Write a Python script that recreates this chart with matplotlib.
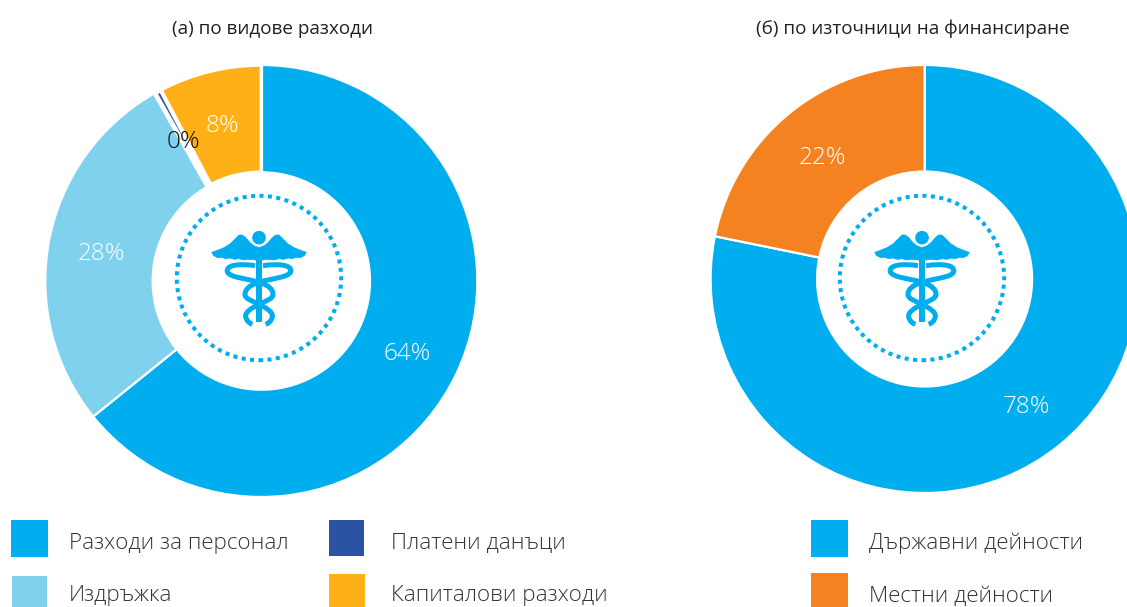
import matplotlib
matplotlib.use("Agg")
import matplotlib.pyplot as plt
from matplotlib.patches import Circle, PathPatch, Rectangle
from matplotlib.path import Path

plt.rcParams['font.family'] = ['Open Sans', 'DejaVu Sans']

W, H = 1127, 607
BLUE = '#00AEEF'; LIGHT = '#7FD1EE'; NAVY = '#2B52A3'; AMBER = '#FFB017'; ORANGE = '#F58220'

title_a = '(а) по видове разходи'
title_b = '(б) по източници на финансиране'
names_a = ['Разходи за персонал', 'Издръжка', 'Платени данъци', 'Капиталови разходи']
values_a = [64.2, 27.6, 0.5, 7.7]
colors_a = [BLUE, LIGHT, NAVY, AMBER]
names_b = ['Държавни дейности', 'Местни дейности']
values_b = [78.2, 21.8]
colors_b = [BLUE, ORANGE]

fig = plt.figure(figsize=(W / 100, H / 100), dpi=100, facecolor='white')
ax = fig.add_axes([0, 0, 1, 1])


def Y(py):
    return H - py


def donut(values, colors, cx, cy, r_out, r_in):
    wedges, _ = ax.pie(values, colors=colors, center=(cx, Y(cy)), radius=r_out, startangle=90,
                       counterclock=False,
                       wedgeprops=dict(width=r_out - r_in, edgecolor='white', linewidth=1.6))
    return wedges


def icon(cx, ring_cy):
    ax.add_patch(Circle((cx, Y(ring_cy)), 82.2, fill=False, edgecolor=BLUE, linewidth=2.9,
                        linestyle=(0, (1, 1.1))))
    oy = ring_cy - 53

    def P(x, y):
        return (cx + x / 3, Y(oy + y / 3))

    ax.add_patch(Circle(P(0, 38), 6.8, facecolor=BLUE, edgecolor='none'))
    ax.add_patch(Rectangle(P(-9, 290), 6, 195 / 3, facecolor=BLUE, edgecolor='none'))
    for s in (1, -1):
        wing = [(0, 68), (16, 62), (28, 52), (40, 38), (50, 30), (60, 30), (70, 40), (86, 56),
                (105, 68), (125, 76), (142, 82), (136, 92), (124, 98), (112, 97), (100, 101),
                (88, 99), (74, 103), (60, 101), (46, 105), (30, 103), (0, 106)]
        pts = [P(s * x, y) for x, y in wing]
        ax.add_patch(PathPatch(Path(pts + [pts[0]], closed=True), facecolor=BLUE, edgecolor=BLUE,
                               linewidth=0.5))
        snake = [((12, 122), Path.MOVETO),
                 ((60, 115), Path.CURVE4), ((100, 120), Path.CURVE4), ((95, 140), Path.CURVE4),
                 ((90, 158), Path.CURVE4), ((35, 160), Path.CURVE4), ((0, 172), Path.CURVE4),
                 ((-30, 180), Path.CURVE4), ((-42, 195), Path.CURVE4), ((-42, 208), Path.CURVE4),
                 ((-42, 222), Path.CURVE4), ((-20, 228), Path.CURVE4), ((0, 238), Path.CURVE4),
                 ((25, 250), Path.CURVE4), ((42, 262), Path.CURVE4), ((40, 275), Path.CURVE4),
                 ((38, 288), Path.CURVE4), ((28, 295), Path.CURVE4), ((20, 298), Path.CURVE4)]
        ax.add_patch(PathPatch(Path([P(s * x, y) for (x, y), _ in snake], [c for _, c in snake]),
                               facecolor='none', edgecolor=BLUE, linewidth=3.6, capstyle='butt'))


wedges_a = donut(values_a, colors_a, 261.3, 281, 216, 108.7)
wedges_a[2].set_linewidth(3.4)
wedges_a[3].set_linewidth(2.6)
donut(values_b, colors_b, 924.6, 279, 214, 107.5)
icon(259, 278)
icon(922, 278)

ax.text(272, Y(29), title_a, ha='center', va='center', fontsize=13.55, color='#222222')
ax.text(912.5, Y(29), title_b, ha='center', va='center', fontsize=13.6, color='#222222')

label_pos_a = [(407, 354), (101, 254), (183, 142), (222, 126)]
label_col_a = ['white', 'white', '#111111', 'white']
for v, (x, y), c in zip(values_a, label_pos_a, label_col_a):
    ax.text(x, Y(y), f'{v:.0f}%', ha='center', va='center', fontsize=17.5, color=c, fontweight='light')
label_pos_b = [(1026, 407), (822, 158)]
for v, (x, y) in zip(values_b, label_pos_b):
    ax.text(x, Y(y), f'{v:.0f}%', ha='center', va='center', fontsize=17.5, color='white', fontweight='light')

legend_a = [(11, 520, 37, 37, 69, 543), (12, 576, 35, 31, 69, 596),
            (329, 520, 35, 36, 391, 543), (329, 574, 36, 33, 391, 596)]
for name, col, (sx, sy, sw, sh, tx, ty) in zip(names_a, colors_a, legend_a):
    ax.add_patch(Rectangle((sx, Y(sy + sh)), sw, sh, facecolor=col, edgecolor='none'))
    ax.text(tx, Y(ty), name, ha='left', va='center', fontsize=16.1, color='#333333', fontweight='light')
legend_b = [(811, 520, 37, 37, 869, 543), (811, 573, 37, 34, 869, 596)]
for name, col, (sx, sy, sw, sh, tx, ty) in zip(names_b, colors_b, legend_b):
    ax.add_patch(Rectangle((sx, Y(sy + sh)), sw, sh, facecolor=col, edgecolor='none'))
    ax.text(tx, Y(ty), name, ha='left', va='center', fontsize=16.1, color='#333333', fontweight='light')

ax.set_xlim(0, W)
ax.set_ylim(0, H)
ax.set_aspect('auto')
ax.axis('off')
fig.savefig('out.png', dpi=100, facecolor='white')
